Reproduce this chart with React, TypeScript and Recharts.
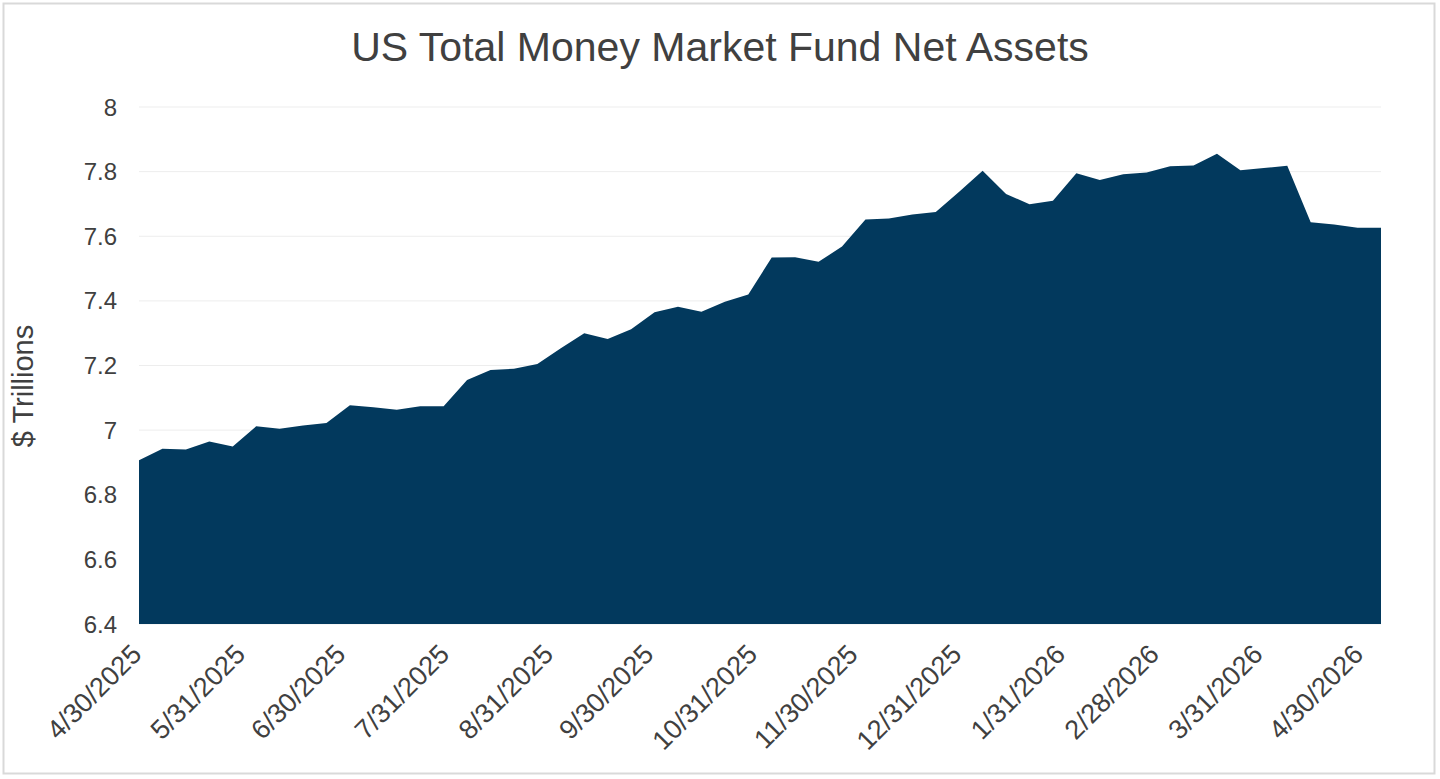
import React from 'react';
import { AreaChart, Area, XAxis, YAxis, CartesianGrid } from 'recharts';

const dates = [
  '2025-04-30', '2025-05-07', '2025-05-14', '2025-05-21', '2025-05-28',
  '2025-06-04', '2025-06-11', '2025-06-18', '2025-06-25',
  '2025-07-02', '2025-07-09', '2025-07-16', '2025-07-23', '2025-07-30',
  '2025-08-06', '2025-08-13', '2025-08-20', '2025-08-27',
  '2025-09-03', '2025-09-10', '2025-09-17', '2025-09-24',
  '2025-10-01', '2025-10-08', '2025-10-15', '2025-10-22', '2025-10-29',
  '2025-11-05', '2025-11-12', '2025-11-19', '2025-11-26',
  '2025-12-03', '2025-12-10', '2025-12-17', '2025-12-24', '2025-12-31',
  '2026-01-07', '2026-01-14', '2026-01-21', '2026-01-28',
  '2026-02-04', '2026-02-11', '2026-02-18', '2026-02-25',
  '2026-03-04', '2026-03-11', '2026-03-18', '2026-03-25',
  '2026-04-01', '2026-04-08', '2026-04-15', '2026-04-22', '2026-04-29',
  '2026-05-06',
];

const netAssets = [
  6.907, 6.942, 6.94, 6.965, 6.949,
  7.012, 7.004, 7.014, 7.022,
  7.077, 7.071, 7.063, 7.074, 7.074,
  7.155, 7.186, 7.19, 7.205,
  7.253, 7.3, 7.282, 7.312,
  7.365, 7.382, 7.366, 7.397, 7.42,
  7.534, 7.535, 7.521, 7.568,
  7.652, 7.655, 7.667, 7.675, 7.738,
  7.803, 7.731, 7.699, 7.71,
  7.795, 7.774, 7.792, 7.797,
  7.817, 7.819, 7.855, 7.804,
  7.811, 7.818, 7.643, 7.636, 7.626,
  7.626,
];

const xTickLabels = [
  '4/30/2025', '5/31/2025', '6/30/2025', '7/31/2025', '8/31/2025', '9/30/2025',
  '10/31/2025', '11/30/2025', '12/31/2025', '1/31/2026', '2/28/2026', '3/31/2026', '4/30/2026',
];

const yTicks = [6.4, 6.6, 6.8, 7, 7.2, 7.4, 7.6, 7.8, 8];

const parseIso = (s: string) => {
  const [y, m, d] = s.split('-').map(Number);
  return Date.UTC(y, m - 1, d);
};
const parseMdy = (s: string) => {
  const [m, d, y] = s.split('/').map(Number);
  return Date.UTC(y, m - 1, d);
};
const fmtMdy = (t: number) => {
  const d = new Date(t);
  return `${d.getUTCMonth() + 1}/${d.getUTCDate()}/${d.getUTCFullYear()}`;
};

const data = dates.map((d, i) => ({ t: parseIso(d), v: netAssets[i] }));
const xTicks = xTickLabels.map(parseMdy);

const FONT = "'Liberation Sans', Arial, Helvetica, sans-serif";
const TEXT = '#404040';

const XTick = (props: any) => {
  const { x, y, payload } = props;
  return (
    <g transform={`translate(${x + 4},${y + 32})`}>
      <text
        textAnchor="end"
        transform="rotate(-45)"
        fill={TEXT}
        fontSize={27}
        fontFamily={FONT}
      >
        {fmtMdy(payload.value)}
      </text>
    </g>
  );
};

export default function App() {
  return (
    <div style={{ position: 'absolute', left: 0, top: 0, width: 1440, height: 779, background: '#fff' }}>
      <AreaChart
        width={1440}
        height={779}
        data={data}
        margin={{ top: 107, right: 59, bottom: 0, left: 0 }}
      >
        <CartesianGrid vertical={false} stroke="#ededed" strokeWidth={1} />
        <XAxis
          dataKey="t"
          type="number"
          scale="time"
          domain={[data[0].t, data[data.length - 1].t]}
          ticks={xTicks}
          interval={0}
          height={155}
          axisLine={false}
          tickLine={false}
          tickSize={0}
          tickMargin={0}
          tick={<XTick />}
        />
        <YAxis
          type="number"
          domain={[6.4, 8]}
          ticks={yTicks}
          interval={0}
          width={139}
          axisLine={false}
          tickLine={false}
          tickSize={0}
          tickMargin={22}
          tickFormatter={(v: number) => String(Number(v.toFixed(1)))}
          tick={{ fill: TEXT, fontSize: 24, fontFamily: FONT }}
          label={{
            content: () => (
              <text
                x={33}
                y={386}
                transform="rotate(-90 33 386)"
                textAnchor="middle"
                fill={TEXT}
                fontSize={29}
                fontFamily={FONT}
              >
                $ Trillions
              </text>
            ),
          }}
        />
        <Area
          type="linear"
          dataKey="v"
          stroke="none"
          fill="#02395D"
          fillOpacity={1}
          baseValue={6.4}
          isAnimationActive={false}
          dot={false}
          activeDot={false}
        />
      </AreaChart>
      <svg
        width={1440}
        height={779}
        style={{ position: 'absolute', left: 0, top: 0, pointerEvents: 'none' }}
      >
        <rect x={3.5} y={3.5} width={1431} height={770} fill="none" stroke="#d9d9d9" strokeWidth={2} />
        <text x={720} y={61} textAnchor="middle" fill={TEXT} fontSize={41} fontFamily={FONT}>
          US Total Money Market Fund Net Assets
        </text>
      </svg>
    </div>
  );
}
